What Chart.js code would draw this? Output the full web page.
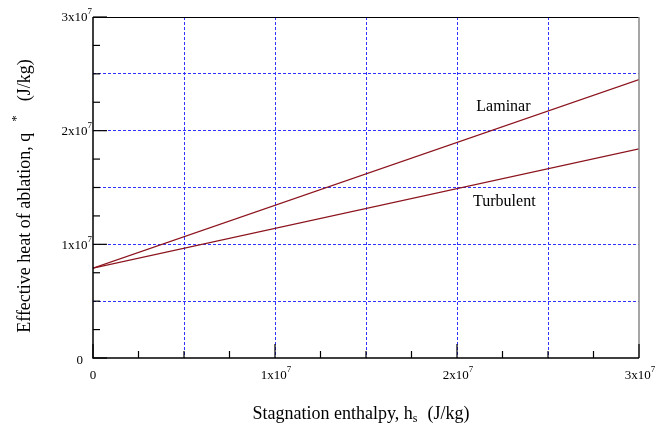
<!DOCTYPE html>
<html>
<head>
<meta charset="utf-8">
<script src="https://cdn.jsdelivr.net/npm/chart.js@4"></script>
<style>
  body { margin: 0; background: #fff; }
  #wrap { width: 662px; height: 432px; }
</style>
</head>
<body>
<div id="wrap"><canvas id="ablation-chart" width="662" height="432"></canvas></div>
<script>
const enthalpy = [0, 3e7];               // stagnation enthalpy hs (J/kg)
const laminar = [7.9e6, 2.45e7];         // q* laminar
const turbulent = [7.9e6, 1.84e7];       // q* turbulent

const tickValues = [0, 1e7, 2e7, 3e7];
const tickBases = ["0", "1x10", "2x10", "3x10"];
const tickExps = ["", "7", "7", "7"];

const lineColor = "rgb(140, 20, 30)";
const serif = "'Liberation Serif', 'DejaVu Serif', serif";

// text with optional raised/lowered small parts and fixed gaps
function drawParts(ctx, parts, x, y, align) {
    const w = p => { if (p.gap) return p.gap; ctx.font = p.size + "px " + serif; return ctx.measureText(p.text).width; };
    let total = 0;
    parts.forEach(p => total += w(p));
    let cx = align === "right" ? x - total : align === "center" ? x - total / 2 : x;
    ctx.textAlign = "left";
    ctx.textBaseline = "middle";
    parts.forEach(p => {
        const pw = w(p);
        if (!p.gap) ctx.fillText(p.text, cx, y + (p.dy || 0));
        cx += pw;
    });
}

function tickParts(i) {
    const parts = [{text: tickBases[i], size: 13}];
    if (tickExps[i]) parts.push({text: tickExps[i], size: 9, dy: -6});
    return parts;
}

const axesPlugin = {
    id: "axesPlugin",
    afterDraw(chart) {
        const ctx = chart.ctx;
        const xs = chart.scales.x, ys = chart.scales.y;
        const a = chart.chartArea;
        ctx.save();

        // frame: top thin black, right grey
        ctx.lineWidth = 1;
        ctx.strokeStyle = "#000";
        ctx.beginPath(); ctx.moveTo(a.left, a.top + 0.5); ctx.lineTo(a.right, a.top + 0.5); ctx.stroke();
        ctx.strokeStyle = "#888";
        ctx.lineWidth = 1.5;
        ctx.beginPath(); ctx.moveTo(a.right, a.top); ctx.lineTo(a.right, a.bottom); ctx.stroke();

        // left and bottom axes
        ctx.strokeStyle = "#000";
        ctx.lineWidth = 1.5;
        ctx.beginPath();
        ctx.moveTo(a.left, a.top); ctx.lineTo(a.left, a.bottom); ctx.lineTo(a.right, a.bottom);
        ctx.stroke();

        // inward ticks every 2.5e6
        ctx.lineWidth = 1.2;
        for (let v = 0; v <= 3e7; v += 2.5e6) {
            const len = (v % 1e7 === 0) ? 14 : 7;
            const py = ys.getPixelForValue(v);
            ctx.beginPath(); ctx.moveTo(a.left, py); ctx.lineTo(a.left + len, py); ctx.stroke();
            const px = xs.getPixelForValue(v);
            ctx.beginPath(); ctx.moveTo(px, a.bottom); ctx.lineTo(px, a.bottom - len); ctx.stroke();
        }

        // tick labels
        ctx.fillStyle = "#000";
        tickValues.forEach((v, i) => {
            const py = ys.getPixelForValue(v);
            drawParts(ctx, tickParts(i), a.left - (i === 0 ? 10 : 1), py + (i === 0 ? 3 : 1), "right");
            const px = xs.getPixelForValue(v);
            drawParts(ctx, tickParts(i), px + (i === 0 ? 0 : 1), a.bottom + 18, "center");
        });

        // curve labels
        ctx.font = "16px " + serif;
        ctx.textAlign = "center";
        ctx.textBaseline = "middle";
        ctx.fillText("Laminar", xs.getPixelForValue(2.255e7), ys.getPixelForValue(2.21e7));
        ctx.fillText("Turbulent", xs.getPixelForValue(2.26e7), ys.getPixelForValue(1.372e7));

        // x axis title
        drawParts(ctx, [
            {text: "Stagnation enthalpy, h", size: 18},
            {text: "s", size: 12, dy: 5},
            {gap: 10},
            {text: "(J/kg)", size: 18}
        ], 361, 414, "center");

        // y axis title
        ctx.translate(25, 196);
        ctx.rotate(-Math.PI / 2);
        drawParts(ctx, [
            {text: "Effective heat of ablation, q", size: 18},
            {gap: 11},
            {text: "*", size: 13, dy: -8},
            {gap: 14},
            {text: "(J/kg)", size: 18}
        ], 0, 0, "center");
        ctx.restore();
    }
};

const gridColor = (c) => (c.tick.value === 0 || c.tick.value === 3e7) ? "rgba(0,0,0,0)" : "rgb(50, 50, 255)";

const config = {
    type: "scatter",
    data: {
        datasets: [
            {label: "Laminar", data: enthalpy.map((x, i) => ({x: x, y: laminar[i]}))},
            {label: "Turbulent", data: enthalpy.map((x, i) => ({x: x, y: turbulent[i]}))}
        ].map(d => Object.assign(d, {showLine: true, borderColor: lineColor, borderWidth: 1.2, pointRadius: 0, fill: false}))
    },
    options: {
        responsive: false,
        animation: false,
        layout: {padding: {left: 93, top: 17, right: 23, bottom: 74}},
        plugins: {legend: {display: false}, tooltip: {enabled: false}},
        scales: {
            x: {
                type: "linear", min: 0, max: 3e7,
                ticks: {display: false, stepSize: 5e6},
                grid: {color: gridColor, lineWidth: 1, drawTicks: false, tickLength: 0},
                border: {display: false, dash: [3, 2]}
            },
            y: {
                type: "linear", min: 0, max: 3e7,
                ticks: {display: false, stepSize: 5e6},
                grid: {color: gridColor, lineWidth: 1, drawTicks: false, tickLength: 0},
                border: {display: false, dash: [3, 2]}
            }
        }
    },
    plugins: [axesPlugin]
};

const myChart = new Chart(document.getElementById("ablation-chart"), config);
</script>
</body>
</html>
